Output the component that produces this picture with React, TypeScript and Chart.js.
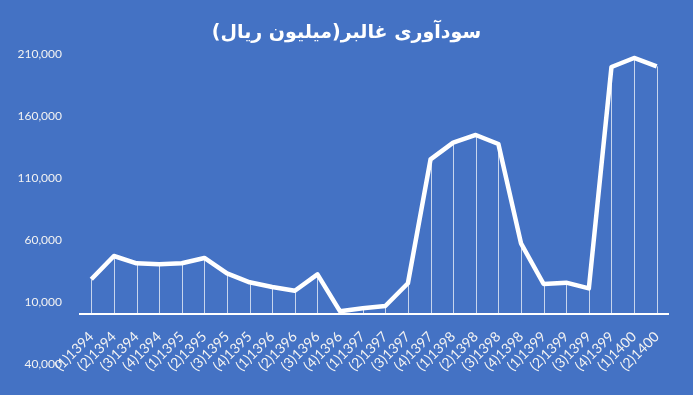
import React, { useEffect, useRef } from "react";
import { Chart, registerables } from "chart.js";

Chart.register(...registerables);

const titleText = "سودآوری غالبر(میلیون ریال)";

const categories = [
  "(1)1394", "(2)1394", "(3)1394", "(4)1394",
  "(1)1395", "(2)1395", "(3)1395", "(4)1395",
  "(1)1396", "(2)1396", "(3)1396", "(4)1396",
  "(1)1397", "(2)1397", "(3)1397", "(4)1397",
  "(1)1398", "(2)1398", "(3)1398", "(4)1398",
  "(1)1399", "(2)1399", "(3)1399", "(4)1399",
  "(1)1400", "(2)1400",
];

const profit = [
  28300, 47100, 41200, 40400,
  41200, 45500, 33100, 25900,
  22100, 19100, 32300, 2500,
  4900, 6800, 25100, 125000,
  138500, 144700, 137400, 57300,
  24500, 25600, 21000, 199500,
  206800, 200000,
];

const yMin = -40000;
const yMax = 210000;
const yStep = 50000;

const dropLines = {
  id: "dropLines",
  beforeDatasetsDraw(chart: any) {
    const meta = chart.getDatasetMeta(0);
    const yScale = chart.scales.y;
    const base = yScale.getPixelForValue(0);
    const ctx = chart.ctx;
    ctx.save();
    ctx.strokeStyle = "rgba(255,255,255,0.7)";
    ctx.lineWidth = 1;
    meta.data.forEach((pt: any) => {
      ctx.beginPath();
      ctx.moveTo(Math.round(pt.x) + 0.5, pt.y);
      ctx.lineTo(Math.round(pt.x) + 0.5, base);
      ctx.stroke();
    });
    ctx.restore();
  },
};

const centeredTitle = {
  id: "centeredTitle",
  afterDraw(chart: any) {
    const ctx = chart.ctx;
    ctx.save();
    ctx.fillStyle = "#ffffff";
    ctx.font = "bold 19px 'DejaVu Sans'";
    ctx.textAlign = "center";
    ctx.textBaseline = "middle";
    ctx.fillText(titleText, chart.width / 2, 33);
    ctx.restore();
  },
};

export default function App() {
  const ref = useRef<HTMLCanvasElement | null>(null);

  useEffect(() => {
    if (!ref.current) return;
    const chart = new Chart(ref.current, {
      type: "line",
      data: {
        labels: categories,
        datasets: [
          {
            data: profit,
            borderColor: "#ffffff",
            borderWidth: 4.5,
            borderJoinStyle: "round",
            pointRadius: 0,
            tension: 0,
            fill: false,
          },
        ],
      },
      options: {
        animation: false,
        responsive: false,
        maintainAspectRatio: false,
        layout: { padding: { left: 0, right: 25, top: 54, bottom: 31 } },
        plugins: {
          legend: { display: false },
          tooltip: { enabled: false },
          title: { display: false },
        },
        scales: {
          x: {
            type: "category",
            offset: true,
            position: { y: 0 } as any,
            grid: { display: false, drawTicks: false },
            border: { display: true, color: "#ffffff", width: 2 },
            ticks: {
              color: "#f2f2f2",
              font: { family: "Lato", size: 14 },
              maxRotation: 45,
              minRotation: 45,
              autoSkip: false,
              padding: 14,
            },
          },
          y: {
            min: yMin,
            max: yMax,
            grid: { display: false, drawTicks: false },
            border: { display: false },
            afterFit: (scale: any) => {
              scale.width = 80;
            },
            ticks: {
              stepSize: yStep,
              color: "#f2f2f2",
              font: { family: "Lato", size: 12 },
              padding: 18,
              callback: (v: any) => Math.abs(Number(v)).toLocaleString("en-US"),
            },
          },
        },
      },
      plugins: [dropLines, centeredTitle],
    });
    return () => chart.destroy();
  }, []);

  return (
    <div
      style={{
        position: "fixed",
        left: 0,
        top: 0,
        width: 693,
        height: 395,
        background: "#4472C4",
      }}
    >
      <canvas ref={ref} width={693} height={395} style={{ width: 693, height: 395, display: "block" }} />
    </div>
  );
}
